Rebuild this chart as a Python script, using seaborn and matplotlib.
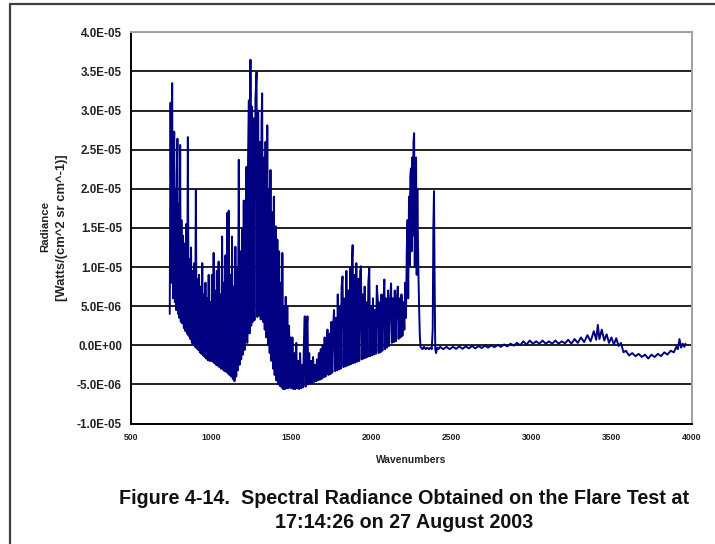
import numpy as np
import pandas as pd
import matplotlib
matplotlib.use("Agg")
import matplotlib.pyplot as plt
import seaborn as sns
from matplotlib.lines import Line2D
from matplotlib.ticker import FuncFormatter, MultipleLocator

# spectrum, radiance in units of 1E-06 W/(cm^2 sr cm^-1)
wn_750_1000 = [742, 747, 752, 757, 762, 766, 770, 774, 778, 782, 786, 790, 794, 798, 802, 807,
               811, 815, 820, 825, 830, 835, 840, 845, 850, 855, 860, 865, 870, 875, 880, 885,
               890, 895, 900, 905, 910, 915, 920, 925, 930, 935, 940, 945, 950, 955, 960, 965,
               970, 975, 980, 985, 990, 995, 1000]
rad_750_1000 = [4.0, 31.0, 8.0, 33.5, 6.0, 24.0, 27.3, 5.5, 20.0, 4.5, 22.0, 26.4, 4.0, 18.0, 3.5, 25.6,
                3.0, 16.0, 2.8, 14.0, 2.2, 13.0, 1.8, 15.5, 1.5, 26.6, 1.2, 11.0, 0.8, 12.5, 0.3, 9.5,
                0.0, 10.5, -0.2, 19.9, -0.4, 8.5, -0.6, 9.0, -0.9, 7.5, -1.1, 10.5, -1.3, 6.5, -1.5, 8.0,
                -1.7, 6.0, -1.9, 9.0, -2.0, 5.5, -2.0]

wn_1000_1500 = [1005, 1010, 1016, 1021, 1026, 1031, 1036, 1041, 1047, 1052, 1057, 1062, 1069, 1074,
                1079, 1084, 1090, 1095, 1100, 1105, 1110, 1115, 1120, 1125, 1131, 1136, 1141, 1146,
                1152, 1157, 1162, 1167, 1173, 1178, 1183, 1188, 1194, 1199, 1204, 1209, 1215, 1221,
                1226, 1231, 1236, 1240, 1246, 1251, 1256, 1261, 1266, 1271, 1277, 1284, 1289, 1294,
                1299, 1305, 1310, 1315, 1319, 1324, 1330, 1335, 1340, 1345, 1351, 1356, 1361, 1366,
                1371, 1376, 1382, 1387, 1392, 1397, 1403, 1408, 1414, 1419, 1425, 1430, 1436, 1441,
                1445, 1450, 1456, 1461, 1466, 1471, 1476, 1481, 1487, 1492, 1497]
rad_1000_1500 = [9.0, -2.1, 11.8, -2.3, 7.0, -2.5, 9.5, -2.6, 10.7, -2.8, 6.5, -3.0, 13.9, -3.1,
                 8.0, -3.3, 11.5, -3.4, 16.9, -3.6, 17.2, -3.8, 9.0, -4.0, 13.9, -4.3, 7.5, -4.6,
                 12.6, -4.0, 10.0, -3.2, 23.7, -2.5, 12.0, -1.8, 15.0, -1.2, 18.5, -0.6, 14.0, 22.8,
                 0.3, 24.0, 31.3, 1.5, 36.5, 2.5, 30.5, 3.0, 29.0, 3.2, 31.5, 34.9, 3.6, 30.0,
                 3.8, 26.0, 3.3, 28.5, 32.2, 3.0, 24.0, 2.0, 26.0, 1.0, 28.1, 0.0, 20.0, -1.0,
                 22.4, -2.0, 17.0, -3.0, 19.0, -3.8, 15.2, -4.5, 13.5, -5.0, 12.0, -5.2, 8.0, -5.4,
                 11.8, -5.6, 5.0, -5.6, 6.2, -5.5, 5.0, -5.5, 2.5, -5.4, 1.0]

wn_1500_2210 = [1502, 1508, 1514, 1520, 1526, 1532, 1538, 1544, 1550, 1556, 1562, 1568, 1574, 1580,
                1585, 1590, 1596, 1602, 1607, 1613, 1619, 1625, 1631, 1637, 1643, 1649, 1655, 1661,
                1667, 1673, 1679, 1685, 1691, 1697, 1703, 1709, 1715, 1721, 1727, 1733, 1739, 1745,
                1751, 1757, 1762, 1768, 1774, 1780, 1786, 1791, 1797, 1803, 1809, 1815, 1821, 1827,
                1833, 1839, 1845, 1851, 1857, 1863, 1869, 1875, 1880, 1884, 1889, 1895, 1901, 1907,
                1913, 1919, 1925, 1931, 1936, 1941, 1947, 1953, 1959, 1965, 1971, 1977, 1982, 1988,
                1993, 1999, 2005, 2011, 2017, 2023, 2029, 2035, 2041, 2046, 2052, 2058, 2064, 2070,
                2076, 2082, 2087, 2093, 2099, 2105, 2111, 2117, 2124, 2129, 2135, 2141, 2147, 2153,
                2159, 2166, 2171, 2177, 2183, 2189, 2195, 2201, 2207]
rad_1500_2210 = [-5.5, 1.0, -5.6, -1.0, -5.6, 0.3, -5.5, -2.0, -5.6, -1.0, -5.5, -2.5, -5.4, 0.5,
                 3.7, -5.3, 1.5, 3.7, -5.0, -1.0, -4.9, -2.0, -4.8, -1.5, -4.7, -2.5, -4.6, -1.8,
                 -4.5, -1.0, -4.4, -0.5, -4.3, 0.0, -4.1, 1.0, -4.0, 0.5, 2.0, -3.8, 1.5, -3.7,
                 3.0, -3.5, 2.5, 4.5, -3.3, 3.5, -3.2, 6.5, -3.1, 5.0, -3.0, 7.5, 8.8, -2.8,
                 6.0, -2.7, 9.5, -2.6, 7.0, -2.5, 10.0, -2.4, 11.0, 12.8, -2.3, 9.0, -2.2, 10.5,
                 -2.1, 8.5, -2.0, 9.5, 10.1, -1.8, 6.5, -1.7, 7.5, -1.6, 5.5, -1.5, 8.0, 9.9,
                 -1.4, 5.0, -1.3, 6.0, -1.2, 4.5, -1.1, 7.6, 5.8, -1.0, 5.5, -0.9, 6.5, -0.7,
                 5.0, 8.4, -0.5, 6.0, -0.3, 7.0, -0.1, 5.5, 7.9, 0.3, 6.0, 0.4, 7.0, 0.5,
                 5.5, 7.5, 0.8, 6.0, 1.0, 6.5, 1.2, 5.5, 2.0]

wn_2210_2420 = [2212, 2217, 2222, 2227, 2231, 2236, 2240, 2244, 2248, 2252, 2256, 2260, 2264, 2268,
                2272, 2276, 2280, 2284, 2288, 2292, 2296, 2300, 2304, 2308, 2312, 2320, 2330, 2340,
                2350, 2360, 2370, 2378, 2384, 2388, 2392, 2396, 2400, 2405, 2412, 2420]
rad_2210_2420 = [8.0, 3.5, 12.0, 16.0, 6.0, 19.0, 10.0, 21.5, 22.6, 12.0, 24.0, 14.0, 26.0, 27.1,
                 10.0, 22.0, 24.0, 9.0, 20.0, 13.0, 8.0, 4.0, 1.0, -0.2, -0.3, -0.5, -0.2, -0.5,
                 -0.3, -0.5, -0.3, -0.5, 2.0, 15.0, 19.7, 8.0, -0.5, -1.0, -0.3, -0.5]

wn_2420_3960 = [2430, 2450, 2470, 2490, 2510, 2530, 2550, 2570, 2590, 2610, 2630, 2650, 2670, 2690,
                2710, 2730, 2750, 2770, 2790, 2810, 2830, 2850, 2870, 2890, 2910, 2930, 2950, 2970,
                2990, 3010, 3030, 3050, 3070, 3090, 3110, 3130, 3150, 3170, 3190, 3210, 3230, 3250,
                3270, 3290, 3310, 3330, 3350, 3370, 3390, 3405, 3415, 3425, 3440, 3455, 3470, 3485,
                3500, 3515, 3530, 3545, 3560, 3575, 3590, 3610, 3630, 3650, 3670, 3690, 3710, 3730,
                3750, 3770, 3790, 3810, 3830, 3850, 3870, 3890, 3905, 3915, 3925, 3935, 3945, 3955,
                3962]
rad_2420_3960 = [-0.2, -0.5, -0.2, -0.5, -0.2, -0.45, -0.15, -0.45, -0.15, -0.4, -0.1, -0.4, -0.1, -0.35,
                 -0.05, -0.3, 0.0, -0.25, 0.05, -0.2, 0.1, -0.15, 0.2, -0.05, 0.3, 0.0, 0.5, 0.1,
                 0.6, 0.2, 0.5, 0.2, 0.6, 0.2, 0.5, 0.2, 0.6, 0.2, 0.5, 0.25, 0.7, 0.2,
                 0.8, 0.3, 1.0, 0.4, 1.3, 0.5, 1.8, 0.7, 2.6, 0.8, 2.0, 0.6, 1.4, 0.3,
                 1.0, 0.1, 0.9, -0.1, 0.3, -0.9, -0.7, -1.3, -1.0, -1.4, -1.1, -1.5, -1.2, -1.7,
                 -1.2, -1.5, -1.1, -1.4, -0.9, -1.2, -0.7, -0.9, -0.2, -0.5, 0.8, -0.3, 0.2, -0.2,
                 0.2]

y_ticks = [-1.0e-05, -5.0e-06, 0.0, 5.0e-06, 1.0e-05, 1.5e-05, 2.0e-05, 2.5e-05, 3.0e-05, 3.5e-05, 4.0e-05]

wavenumbers = wn_750_1000 + wn_1000_1500 + wn_1500_2210 + wn_2210_2420 + wn_2420_3960
radiance = rad_750_1000 + rad_1000_1500 + rad_1500_2210 + rad_2210_2420 + rad_2420_3960
df = pd.DataFrame({"wavenumber": wavenumbers, "radiance": np.array(radiance) * 1e-6})

sns.set_style("white")
plt.rcParams["font.family"] = ["Liberation Sans", "DejaVu Sans"]

fig = plt.figure(figsize=(7.15, 5.44), dpi=100)
W, H = 715, 544
ax = fig.add_axes([131 / W, 1 - 423.5 / H, (691.5 - 131) / W, (423.5 - 32.3) / H])

sns.lineplot(data=df, x="wavenumber", y="radiance", ax=ax, color="#000080",
             linewidth=1.4, sort=False, estimator=None, zorder=3)

ax.set_xlim(500, 4000)
ax.set_ylim(-1.0e-05, 4.0e-05)
ax.xaxis.set_major_locator(MultipleLocator(500))
ax.set_yticks(y_ticks)
ax.yaxis.set_major_formatter(FuncFormatter(lambda v, p: f"{v:.1E}"))

ax.grid(axis="y", color="#202020", linewidth=1.4, zorder=1)
ax.grid(axis="x", visible=False)
ax.set_axisbelow(True)

for side in ["left", "bottom"]:
    ax.spines[side].set_color("black")
    ax.spines[side].set_linewidth(1.4)
for side in ["top", "right"]:
    ax.spines[side].set_visible(True)
    ax.spines[side].set_color("#a0a0a0")
    ax.spines[side].set_linewidth(1.4)

ax.tick_params(axis="both", direction="inout", length=7, width=1.2, color="black", pad=3)
ax.tick_params(axis="y", labelsize=8.4)
ax.tick_params(axis="x", labelsize=6.2)
for lab in ax.get_xticklabels() + ax.get_yticklabels():
    lab.set_fontweight("bold")
    lab.set_color("#222222")

ax.set_xlabel("Wavenumbers", fontsize=7.4, fontweight="bold", color="#222222", labelpad=10)
ax.set_ylabel("")
fig.text(45 / W, 1 - 227 / H, "Radiance", rotation=90, ha="center", va="center",
         fontsize=8.2, fontweight="bold", color="#222222")
fig.text(62 / W, 1 - 228 / H, "[Watts/(cm^2 sr cm^-1)]", rotation=90, ha="center", va="center",
         fontsize=9.4, fontweight="bold", color="#222222")

fig.text(404 / W, 1 - 498 / H, "Figure 4-14.  Spectral Radiance Obtained on the Flare Test at",
         ha="center", va="center", fontsize=14.2, fontweight="bold", color="#111111")
fig.text(404 / W, 1 - 522 / H, "17:14:26 on 27 August 2003",
         ha="center", va="center", fontsize=14.2, fontweight="bold", color="#111111")

# outer frame of the scanned page
fig.add_artist(Line2D([10 / W, 10 / W], [0, 1 - 3.5 / H], transform=fig.transFigure,
                      color="#404040", linewidth=1.6))
fig.add_artist(Line2D([10 / W, 1], [1 - 3.5 / H, 1 - 3.5 / H], transform=fig.transFigure,
                      color="#404040", linewidth=1.6))

fig.savefig("out.png", dpi=100)
